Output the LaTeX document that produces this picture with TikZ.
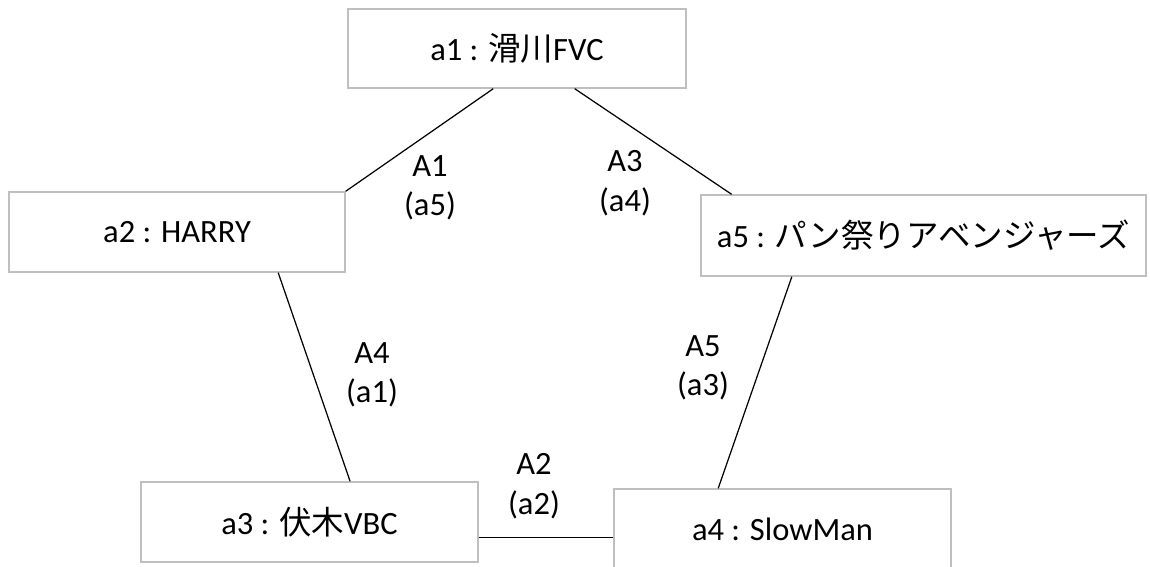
\documentclass[tikz,border=0pt]{standalone}
\usepackage{fontspec}
\setmainfont{Carlito}
\newfontfamily\jp{Noto Sans CJK JP}
\usetikzlibrary{calc}
\tikzset{
  team/.style={draw=black!25, line width=0.8pt, inner sep=0pt, minimum height=1.6cm,
    font=\fontsize{18.5}{22.5}\selectfont},
  game/.style={align=center, inner sep=0pt, font=\fontsize{18.5}{22.5}\selectfont},
  link/.style={line width=0.7pt}
}
\begin{document}
\begin{tikzpicture}[x=0.02cm, y=-0.02cm]
\useasboundingbox (0,0) rectangle (1150,567);
% teams
\node[team, minimum width=6.76cm, minimum height=1.58cm] (a1) at (517,48.5) {a1 : {\jp 滑川}FVC};
\node[team, minimum width=6.72cm] (a2) at (177,232) {a2 : HARRY};
\node[team, minimum width=8.9cm, minimum height=1.62cm] (a5) at (923.5,235.5) {a5 : {\jp パン祭りアベンジャーズ}};
\node[team, minimum width=6.74cm] (a3) at (309.5,522) {a3 : {\jp 伏木}VBC};
\node[team, minimum width=6.74cm] (a4) at (782.5,529) {a4 : SlowMan};
% games
\draw[link] ($(a1.south west)!0.43!(a1.south east)$) -- (a2.north east);
\draw[link] ($(a1.south west)!0.67!(a1.south east)$) -- ($(a5.north west)!0.07!(a5.north east)$);
\draw[link] ($(a2.south west)!0.80!(a2.south east)$) -- ($(a3.north west)!0.62!(a3.north east)$);
\draw[link] ($(a5.south west)!0.205!(a5.south east)$) -- ($(a4.north west)!0.31!(a4.north east)$);
\draw[link] ($(a3.north east)!0.69!(a3.south east)$) coordinate (p) -- (p -| a4.west);
% labels
\node[game] (g1) at (430,188) {A1\\(a5)};
\node[game] (g3) at (625,183) {A3\\(a4)};
\node[game] (g4) at (372,375) {A4\\(a1)};
\node[game] (g5) at (703,368) {A5\\(a3)};
\node[game] (g2) at (534,486) {A2\\(a2)};
\end{tikzpicture}
\end{document}
